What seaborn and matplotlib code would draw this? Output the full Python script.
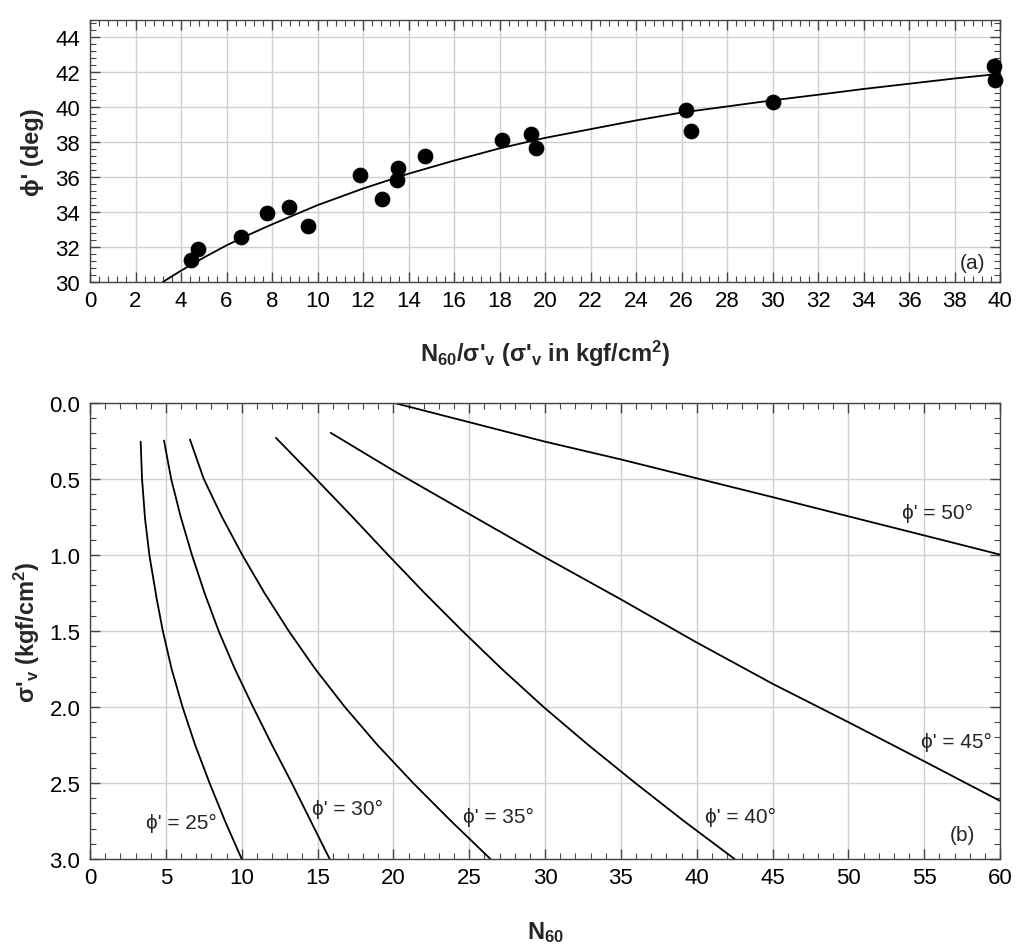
import numpy as np
import pandas as pd
import seaborn as sns
import matplotlib.pyplot as plt
from matplotlib.ticker import MultipleLocator

#%% data
# (a) measured points: N60/sigma'v vs phi'
ratio_pts = [4.42, 4.75, 6.64, 7.77, 8.75, 9.57, 11.87, 12.83, 13.52, 13.48, 14.71,
             18.09, 19.38, 19.60, 26.18, 26.40, 30.00, 39.74, 39.78]
phi_pts = [31.24, 31.90, 32.57, 33.96, 34.27, 33.18, 36.11, 34.76, 36.50, 35.83, 37.20,
           38.11, 38.50, 37.70, 39.87, 38.67, 40.30, 42.34, 41.58]

# (a) fitted curve
ratio_fit = [3.2, 3.6, 4, 5, 6, 7, 8, 10, 12, 14, 16, 18, 20, 22, 24, 26, 28, 30,
             32, 34, 36, 38, 40]
phi_fit = [30.0, 30.33, 30.65, 31.4, 32.1, 32.72, 33.3, 34.4, 35.35, 36.2, 36.95, 37.65,
           38.25, 38.75, 39.25, 39.7, 40.05, 40.4, 40.72, 41.05, 41.35, 41.65, 41.92]

# (b) curves N60 vs sigma'v for each phi'
sig_25 = [0.255, 0.5, 0.764, 1.005, 1.29, 1.5, 1.75, 2.0, 2.25, 2.5, 2.75, 3.0]
n_25 = [3.34, 3.43, 3.63, 3.92, 4.40, 4.80, 5.38, 6.1, 6.93, 7.88, 8.9, 10.0]
sig_30 = [0.248, 0.5, 0.75, 1.0, 1.25, 1.5, 1.75, 2.0, 2.25, 2.5, 2.75, 3.0]
n_30 = [4.88, 5.35, 5.98, 6.72, 7.55, 8.48, 9.55, 10.75, 12.0, 13.3, 14.55, 15.8]
sig_35 = [0.241, 0.5, 0.75, 1.0, 1.25, 1.5, 1.75, 2.0, 2.25, 2.5, 2.75, 3.0]
n_35 = [6.59, 7.5, 8.7, 10.04, 11.5, 13.1, 14.85, 16.8, 18.95, 21.3, 23.8, 26.4]
sig_40 = [0.23, 0.5, 0.75, 1.0, 1.25, 1.5, 1.75, 2.0, 2.25, 2.5, 2.75, 3.0]
n_40 = [12.26, 14.9, 17.3, 19.65, 22.05, 24.55, 27.15, 29.9, 32.85, 35.95, 39.15, 42.5]
sig_45 = [0.197, 0.445, 0.731, 1.016, 1.295, 1.576, 1.85, 2.10, 2.36, 2.618]
n_45 = [15.87, 20.0, 25.0, 30.0, 35.05, 40.0, 45.05, 50.0, 55.05, 60.0]
sig_50 = [0.0, 0.127, 0.255, 0.373, 0.496, 0.621, 0.746, 0.873, 0.998]
n_50 = [20.04, 25.0, 30.0, 35.05, 40.0, 45.05, 50.0, 55.05, 60.0]

curves = {25: (n_25, sig_25), 30: (n_30, sig_30), 35: (n_35, sig_35),
          40: (n_40, sig_40), 45: (n_45, sig_45), 50: (n_50, sig_50)}
# label anchors (N60, sigma'v)
label_pos = {25: (6.0, 2.76), 30: (17.0, 2.67), 35: (26.9, 2.72),
             40: (42.9, 2.72), 45: (57.1, 2.23), 50: (55.9, 0.72)}

#%% style
sns.set_theme(style='ticks')
plt.rcParams['font.family'] = ['Liberation Sans', 'DejaVu Sans']
plt.rcParams['mathtext.fontset'] = 'custom'
plt.rcParams['mathtext.rm'] = 'Liberation Sans'
plt.rcParams['mathtext.bf'] = 'Liberation Sans:bold'
plt.rcParams['mathtext.default'] = 'bf'
plt.rcParams['axes.edgecolor'] = '#444444'

fig = plt.figure(figsize=(10.24, 9.53), dpi=100)
ax1 = fig.add_axes([0.0879, 0.703, 0.8887, 0.275])
ax2 = fig.add_axes([0.0879, 0.0976, 0.8887, 0.4786])


def style_axis(ax):
    ax.grid(True, which='major', color='#d0d0d0', linewidth=1.0)
    ax.set_axisbelow(True)
    ax.tick_params(which='both', direction='in', top=True, right=True,
                   labelsize=16, colors='#444444', labelcolor='black')
    ax.tick_params(which='major', length=7, width=1.0)
    ax.tick_params(which='minor', length=4, width=0.8)
    ax.tick_params(axis='y', which='major', pad=7)
    ax.tick_params(axis='x', which='major', pad=6)
    for s in ax.spines.values():
        s.set_linewidth(1.0)


#%% (a)
df_pts = pd.DataFrame({'ratio': ratio_pts, 'phi': phi_pts})
df_fit = pd.DataFrame({'ratio': ratio_fit, 'phi': phi_fit})
sns.lineplot(data=df_fit, x='ratio', y='phi', color='black', linewidth=1.3, ax=ax1, sort=False)
sns.scatterplot(data=df_pts, x='ratio', y='phi', color='black', s=110, edgecolor='black',
                ax=ax1, zorder=3, clip_on=False)
ax1.set_xlim(0, 40)
ax1.set_ylim(30, 45)
ax1.xaxis.set_major_locator(MultipleLocator(2))
ax1.xaxis.set_minor_locator(MultipleLocator(0.4))
ax1.yaxis.set_major_locator(MultipleLocator(2))
ax1.yaxis.set_minor_locator(MultipleLocator(0.4))
style_axis(ax1)
ax1.set_xlabel("N$_{60}$/σ'$_{v}$ (σ'$_{v}$ in kgf/cm$^{2}$)", fontsize=17,
               fontweight='bold', labelpad=19)
ax1.set_ylabel("ϕ' (deg)", fontsize=17, fontweight='bold', labelpad=8)
ax1.text(38.8, 31.1, '(a)', fontsize=15, ha='center', va='center')

#%% (b)
for phi, (nn, ss) in curves.items():
    d = pd.DataFrame({'N60': nn, 'sigma': ss})
    sns.lineplot(data=d, x='N60', y='sigma', color='black', linewidth=1.3, ax=ax2, sort=False)
    lx, ly = label_pos[phi]
    ax2.text(lx, ly, "ϕ' = %d°" % phi, fontsize=15, ha='center', va='center')
ax2.set_xlim(0, 60)
ax2.set_ylim(3.0, 0.0)
ax2.xaxis.set_major_locator(MultipleLocator(5))
ax2.xaxis.set_minor_locator(MultipleLocator(1))
ax2.yaxis.set_major_locator(MultipleLocator(0.5))
ax2.yaxis.set_minor_locator(MultipleLocator(0.1))
ax2.yaxis.set_major_formatter(plt.FormatStrFormatter('%.1f'))
style_axis(ax2)
ax2.set_xlabel("N$_{60}$", fontsize=17, fontweight='bold', labelpad=22)
ax2.set_ylabel("σ'$_{v}$ (kgf/cm$^{2}$)", fontsize=17, fontweight='bold', labelpad=5)
ax2.text(57.5, 2.84, '(b)', fontsize=15, ha='center', va='center')

plt.savefig('out.png', dpi=100)
